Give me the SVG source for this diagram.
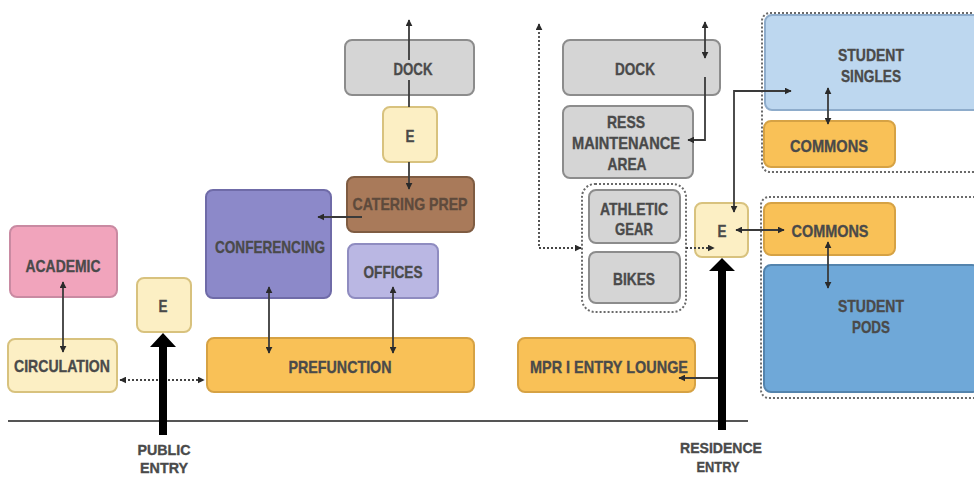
<svg xmlns="http://www.w3.org/2000/svg" width="974" height="478" viewBox="0 0 974 478">
  <style>
    .lbl { font-family: "Liberation Sans", Arial, sans-serif; font-weight: bold; font-size: 17px; fill: #4a4a4a; stroke: #4a4a4a; stroke-width: 0.35; text-anchor: middle; }
    .cap { font-size: 15px; }
    .box { stroke-width: 2; }
    .pink { fill: #f1a4bc; stroke: #c98aa2; }
    .cream { fill: #fcefc4; stroke: #d8c27e; }
    .orange { fill: #f9c157; stroke: #d6a244; }
    .violet { fill: #8c89c9; stroke: #6f6ba8; }
    .lilac { fill: #bab7e3; stroke: #8f8cc0; }
    .brown { fill: #a97a5a; stroke: #7f5c42; }
    .grey { fill: #d5d5d5; stroke: #8c8c8c; }
    .sky { fill: #bdd7ef; stroke: #8eaccb; }
    .blue { fill: #6fa8d8; stroke: #5484ad; }
    .link { fill: none; stroke: #3a3a3a; stroke-width: 1.8; }
    .dot { fill: none; stroke: #444; stroke-width: 1.8; stroke-dasharray: 2 2; }
    .group { fill: none; stroke: #6a6a6a; stroke-width: 2; stroke-dasharray: 2 2; }
    .entry { fill: #000; }
  </style>
  <defs>
    <marker id="head" viewBox="0 0 10 10" refX="9" refY="5" markerWidth="7" markerHeight="7" markerUnits="userSpaceOnUse" orient="auto-start-reverse">
      <path d="M0,0 L10,5 L0,10 z" fill="#2a2a2a"/>
    </marker>
  </defs>

  <!-- ground line -->
  <line x1="8" y1="421" x2="748" y2="421" stroke="#555" stroke-width="2"/>

  <!-- dotted clusters -->
  <g id="cluster-storage"><rect class="group" x="582" y="184" width="104" height="128" rx="13"/></g>
  <g id="cluster-singles"><rect class="group" x="762" y="13" width="220" height="159" rx="8"/></g>
  <g id="cluster-pods"><rect class="group" x="761" y="197" width="220" height="201" rx="8"/></g>

  <!-- nodes -->
  <g id="academic"><rect class="box pink" x="10" y="226" width="107" height="71" rx="7"/><text class="lbl" x="63" y="272" textLength="75" lengthAdjust="spacingAndGlyphs">ACADEMIC</text></g>
  <g id="circulation"><rect class="box cream" x="8" y="339" width="109" height="53" rx="7"/><text class="lbl" x="62" y="372" textLength="96" lengthAdjust="spacingAndGlyphs">CIRCULATION</text></g>
  <g id="elevator-public"><rect class="box cream" x="137" y="278" width="54" height="54" rx="7"/><text class="lbl" x="163" y="312" textLength="9" lengthAdjust="spacingAndGlyphs">E</text></g>
  <g id="conferencing"><rect class="box violet" x="206" y="190" width="125" height="108" rx="7"/><text class="lbl" x="270" y="253" textLength="110" lengthAdjust="spacingAndGlyphs">CONFERENCING</text></g>
  <g id="catering-prep"><rect class="box brown" x="347" y="177" width="127" height="55" rx="7"/><text class="lbl" x="410" y="210" textLength="115" lengthAdjust="spacingAndGlyphs" style="fill:#5e4a3c;stroke:#5e4a3c">CATERING PREP</text></g>
  <g id="offices"><rect class="box lilac" x="348" y="244" width="90" height="54" rx="7"/><text class="lbl" x="393" y="278" textLength="59" lengthAdjust="spacingAndGlyphs">OFFICES</text></g>
  <g id="prefunction"><rect class="box orange" x="207" y="338" width="267" height="54" rx="7"/><text class="lbl" x="340" y="373" textLength="103" lengthAdjust="spacingAndGlyphs">PREFUNCTION</text></g>
  <g id="dock-conference"><rect class="box grey" x="345" y="40" width="129" height="55" rx="7"/><text class="lbl" x="413" y="75" textLength="39" lengthAdjust="spacingAndGlyphs">DOCK</text></g>
  <g id="elevator-service"><rect class="box cream" x="383" y="107" width="54" height="55" rx="7"/><text class="lbl" x="410" y="142" textLength="9" lengthAdjust="spacingAndGlyphs">E</text></g>

  <g id="dock-residence"><rect class="box grey" x="563" y="40" width="157" height="55" rx="7"/><text class="lbl" x="635" y="75" textLength="40" lengthAdjust="spacingAndGlyphs">DOCK</text></g>
  <g id="ress-maintenance"><rect class="box grey" x="563" y="106" width="130" height="72" rx="7"/>
    <text class="lbl" x="626" y="128" textLength="38" lengthAdjust="spacingAndGlyphs">RESS</text>
    <text class="lbl" x="626" y="149" textLength="108" lengthAdjust="spacingAndGlyphs">MAINTENANCE</text>
    <text class="lbl" x="627" y="170" textLength="39" lengthAdjust="spacingAndGlyphs">AREA</text></g>
  <g id="athletic-gear"><rect class="box grey" x="589" y="190" width="91" height="53" rx="7"/>
    <text class="lbl" x="634" y="215" textLength="68" lengthAdjust="spacingAndGlyphs">ATHLETIC</text>
    <text class="lbl" x="634" y="235" textLength="38" lengthAdjust="spacingAndGlyphs">GEAR</text></g>
  <g id="bikes"><rect class="box grey" x="589" y="252" width="91" height="51" rx="7"/><text class="lbl" x="634" y="285" textLength="42" lengthAdjust="spacingAndGlyphs">BIKES</text></g>
  <g id="elevator-residence"><rect class="box cream" x="695" y="203" width="53" height="54" rx="7"/><text class="lbl" x="722" y="237" textLength="9" lengthAdjust="spacingAndGlyphs">E</text></g>
  <g id="mpr-entry-lounge"><rect class="box orange" x="518" y="338" width="177" height="54" rx="7"/><text class="lbl" x="609" y="373" textLength="158" lengthAdjust="spacingAndGlyphs">MPR I ENTRY LOUNGE</text></g>

  <g id="student-singles"><rect class="box sky" x="765" y="15" width="215" height="95" rx="7"/>
    <text class="lbl" x="871" y="61" textLength="66" lengthAdjust="spacingAndGlyphs">STUDENT</text>
    <text class="lbl" x="871" y="82" textLength="60" lengthAdjust="spacingAndGlyphs">SINGLES</text></g>
  <g id="commons-singles"><rect class="box orange" x="764" y="121" width="131" height="46" rx="7"/><text class="lbl" x="829" y="152" textLength="78" lengthAdjust="spacingAndGlyphs">COMMONS</text></g>
  <g id="commons-pods"><rect class="box orange" x="764" y="203" width="131" height="52" rx="7"/><text class="lbl" x="830" y="237" textLength="77" lengthAdjust="spacingAndGlyphs">COMMONS</text></g>
  <g id="student-pods"><rect class="box blue" x="764" y="265" width="215" height="127" rx="7"/>
    <text class="lbl" x="871" y="312" textLength="66" lengthAdjust="spacingAndGlyphs">STUDENT</text>
    <text class="lbl" x="871" y="333" textLength="38" lengthAdjust="spacingAndGlyphs">PODS</text></g>

  <!-- connectors -->
  <g id="connectors">
    <line class="link" x1="63" y1="282" x2="63" y2="352" marker-start="url(#head)" marker-end="url(#head)"/>
    <line class="dot" x1="120" y1="380" x2="204" y2="380" marker-start="url(#head)" marker-end="url(#head)"/>
    <line class="link" x1="269" y1="287" x2="269" y2="353" marker-start="url(#head)" marker-end="url(#head)"/>
    <line class="link" x1="393" y1="287" x2="393" y2="353" marker-start="url(#head)" marker-end="url(#head)"/>
    <line class="link" x1="362" y1="217" x2="318" y2="217" marker-end="url(#head)"/>
    <line class="link" x1="409" y1="162" x2="409" y2="189" marker-end="url(#head)"/>
    <line class="link" x1="409" y1="80" x2="409" y2="107"/>
    <line class="link" x1="409" y1="60" x2="409" y2="20" marker-end="url(#head)"/>

    <polyline class="dot" points="539,24 539,248 581,248" marker-start="url(#head)" marker-end="url(#head)"/>
    <line class="link" x1="705" y1="22" x2="705" y2="58" marker-start="url(#head)" marker-end="url(#head)"/>
    <polyline class="link" points="705,77 705,140 688,140" marker-end="url(#head)"/>
    <line class="dot" x1="686" y1="248" x2="714" y2="248" marker-end="url(#head)"/>
    <polyline class="link" points="734,212 734,91 791,91" marker-start="url(#head)" marker-end="url(#head)"/>
    <line class="link" x1="736" y1="230" x2="784" y2="230" marker-start="url(#head)" marker-end="url(#head)"/>
    <line class="link" x1="828" y1="88" x2="828" y2="124" marker-start="url(#head)" marker-end="url(#head)"/>
    <line class="link" x1="828" y1="242" x2="828" y2="288" marker-start="url(#head)" marker-end="url(#head)"/>
    <line class="link" x1="722" y1="378" x2="679" y2="378" marker-end="url(#head)"/>
  </g>

  <!-- entries -->
  <g id="public-entry">
    <path class="entry" d="M159,435 L159,347 L150,347 L163,333 L176,347 L167,347 L167,435 z"/>
    <text class="lbl cap" x="164" y="455" textLength="53" lengthAdjust="spacingAndGlyphs">PUBLIC</text>
    <text class="lbl cap" x="164" y="473" textLength="48" lengthAdjust="spacingAndGlyphs">ENTRY</text>
  </g>
  <g id="residence-entry">
    <path class="entry" d="M718,430 L718,271 L709,271 L722,258 L735,271 L726,271 L726,430 z"/>
    <text class="lbl cap" x="721" y="453" textLength="82" lengthAdjust="spacingAndGlyphs">RESIDENCE</text>
    <text class="lbl cap" x="718" y="472" textLength="43" lengthAdjust="spacingAndGlyphs">ENTRY</text>
  </g>
</svg>
